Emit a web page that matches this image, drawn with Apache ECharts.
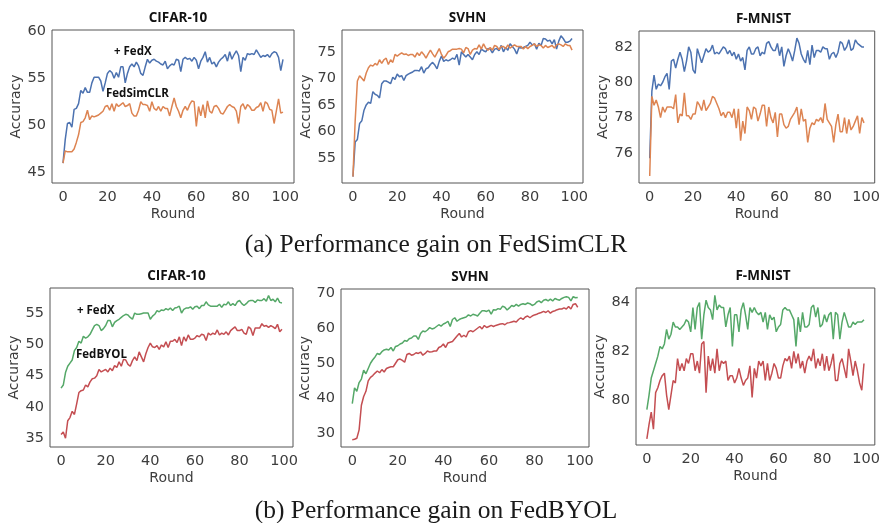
<!DOCTYPE html>
<html>
<head>
<meta charset="utf-8">
<script src="https://cdn.jsdelivr.net/npm/echarts@6/dist/echarts.min.js"></script>
<style>
  html, body { margin: 0; padding: 0; background: #fff; }
  #chart { width: 883px; height: 523px; }
</style>
</head>
<body>
<div id="chart"></div>
<script>
// rounds 0..99, accuracy per round
const simclrCifarFedx = [46.0,48.5,50.2,50.3,49.8,51.7,51.8,52.3,53.7,53.4,54.0,53.5,53.5,54.5,55.1,55.1,55.1,54.7,53.6,54.5,55.5,55.8,55.6,55.0,55.6,55.1,56.2,56.2,54.5,55.5,56.2,56.5,56.2,56.7,56.3,55.5,55.3,56.2,57.0,56.6,56.9,57.0,56.8,56.7,56.5,56.4,56.8,56.0,56.3,56.5,56.4,57.0,56.9,55.7,57.0,57.2,57.0,57.1,56.8,57.2,56.9,56.0,56.8,57.2,57.8,56.7,57.2,56.5,56.7,56.2,56.7,57.0,57.2,57.5,56.8,57.8,57.0,57.5,57.9,57.4,55.7,57.2,56.9,57.6,57.5,57.6,57.5,58.0,57.6,57.2,57.4,57.3,57.5,57.2,57.6,57.8,57.7,57.2,55.8,57.0];
const simclrCifarBase = [46.0,47.3,47.2,47.2,47.2,47.5,48.2,49.0,50.3,50.4,50.8,51.6,50.6,51.0,50.9,51.0,51.1,51.3,51.5,52.0,52.1,51.6,52.3,51.5,52.3,52.0,52.2,52.4,52.0,52.1,52.3,51.3,51.0,51.0,51.6,52.5,52.2,52.2,52.1,51.5,52.5,51.8,51.6,52.0,51.5,52.0,51.8,51.8,51.0,52.0,52.9,52.0,51.5,50.8,51.6,52.0,51.6,52.2,52.6,52.5,49.9,52.0,51.0,52.2,50.8,52.6,51.5,51.3,52.0,52.1,51.8,51.3,51.2,51.6,52.0,52.2,52.0,51.9,51.5,50.2,52.0,52.3,51.7,52.2,52.0,51.6,51.6,51.9,52.0,52.4,51.5,52.5,52.3,51.7,51.6,50.2,51.5,52.8,51.3,51.4];
const simclrSvhnFedx = [51.5,58.0,58.5,61.5,62.0,64.0,65.0,65.5,65.3,67.5,67.0,66.8,66.3,69.0,69.5,69.5,69.3,69.0,70.2,69.8,70.8,70.3,70.5,69.6,70.5,70.8,71.0,71.2,71.5,71.5,71.4,72.2,71.0,71.8,72.0,72.6,73.0,72.5,71.8,73.2,74.2,73.2,73.5,73.3,73.5,73.8,73.6,74.5,72.5,75.0,74.5,74.0,74.5,74.0,73.5,74.5,75.0,74.5,75.5,75.2,75.0,75.6,75.5,74.8,75.5,75.6,75.2,76.2,75.0,75.8,75.3,76.5,76.0,75.5,74.6,75.8,75.7,75.8,76.0,76.2,76.8,76.3,76.5,75.5,76.6,76.2,77.5,77.4,77.0,77.2,76.5,77.3,75.5,77.0,78.0,77.5,76.8,76.8,77.0,77.5];
const simclrSvhnBase = [51.5,62.0,69.5,70.5,70.0,69.5,71.0,72.0,72.5,72.3,72.8,72.5,73.5,72.8,73.5,73.8,72.6,73.5,73.0,74.5,74.2,74.5,74.8,74.5,74.6,74.3,74.5,74.5,74.0,74.8,74.3,75.0,74.5,73.8,74.6,75.3,74.6,74.0,74.8,75.6,74.5,73.8,74.3,75.0,75.2,75.5,75.5,75.5,75.6,75.5,74.8,75.8,75.6,74.5,75.3,75.6,75.5,76.3,75.5,76.5,75.7,75.3,75.8,75.3,76.2,76.0,75.4,76.0,76.0,75.6,76.3,75.7,76.0,76.3,76.0,76.0,76.0,75.5,76.0,75.6,76.0,76.2,76.5,76.0,76.3,76.2,75.7,76.2,75.8,76.0,76.2,75.7,76.3,76.5,76.3,76.0,76.5,76.2,76.2,75.3];
const simclrFmnistFedx = [75.7,79.5,80.4,79.6,79.9,79.8,80.0,80.3,80.5,79.6,81.2,81.3,80.8,81.3,81.7,81.3,80.6,81.2,82.0,81.7,80.7,80.5,81.9,81.5,81.1,81.5,81.9,81.7,81.8,82.1,81.6,81.7,81.6,81.8,82.0,81.9,81.6,81.8,81.5,81.7,81.3,81.6,81.2,81.4,80.7,81.8,82.0,81.6,81.6,81.9,82.0,81.5,81.7,81.6,82.2,82.3,82.0,81.8,81.8,82.2,81.5,82.0,80.9,81.5,81.9,81.6,81.2,81.8,82.5,82.2,81.6,81.3,81.1,81.8,81.0,82.1,81.4,81.8,81.8,81.7,82.0,81.9,81.9,81.3,81.6,81.7,81.4,81.7,82.3,82.2,81.8,82.0,82.4,81.8,81.9,82.4,82.2,82.1,82.0,82.0];
const simclrFmnistBase = [74.7,79.2,78.7,79.0,78.6,78.0,78.6,78.3,78.6,78.6,78.6,78.5,79.3,77.7,78.2,78.1,79.4,78.1,78.1,77.9,78.2,78.2,78.9,78.7,78.4,79.0,78.4,78.6,78.8,79.2,79.1,78.8,78.5,78.1,78.3,78.0,78.3,78.3,78.0,78.5,77.4,78.5,76.7,77.8,77.1,78.6,78.4,77.9,78.6,78.5,77.8,78.2,78.7,78.7,77.5,78.6,78.0,77.7,78.3,76.9,78.2,78.2,77.6,77.4,77.5,77.9,78.1,78.3,78.6,77.6,78.5,77.8,77.9,76.6,77.4,77.7,77.6,77.9,77.8,78.0,77.7,78.8,77.9,77.7,77.5,76.6,77.6,78.2,77.2,77.2,78.0,77.1,77.9,77.3,77.5,77.8,78.1,77.1,78.0,77.7];
const byolCifarFedx = [43.0,43.5,45.5,46.5,47.0,47.5,49.0,49.5,50.5,50.2,51.3,51.0,51.2,51.6,52.3,53.0,53.2,53.0,52.2,52.5,53.0,53.8,53.8,52.8,53.5,53.8,54.0,54.3,54.6,54.8,54.7,54.3,54.0,55.0,54.8,54.8,54.9,55.0,55.0,55.0,54.0,54.5,54.8,55.4,55.2,55.5,55.4,55.7,55.5,55.8,55.4,55.8,55.9,56.1,55.0,55.6,55.8,55.8,56.0,55.6,56.0,56.1,55.7,56.2,56.2,56.8,56.3,56.1,56.1,56.1,56.1,56.4,55.9,56.4,56.3,56.8,56.2,56.5,56.2,56.8,57.0,56.5,56.2,56.5,56.9,57.0,57.0,56.7,57.1,57.0,57.0,57.3,56.9,57.8,57.0,57.2,56.8,57.4,56.7,56.6];
const byolCifarBase = [35.6,36.0,35.0,37.8,38.3,39.3,38.8,40.5,42.3,42.6,42.7,43.5,43.2,44.0,44.5,44.6,45.0,46.0,45.6,45.8,46.0,45.6,46.2,45.8,46.6,46.3,47.2,46.5,47.6,47.5,46.8,46.5,47.4,48.0,47.4,48.8,48.0,47.2,48.5,49.5,50.2,49.6,49.5,49.8,49.2,49.9,49.6,50.4,49.5,50.5,50.5,50.8,50.3,51.2,49.8,51.2,50.5,51.5,50.8,50.8,51.0,51.4,51.2,51.6,51.5,50.6,51.8,51.5,51.8,51.6,52.3,51.5,51.8,51.6,52.0,51.5,52.2,52.5,52.8,52.2,52.2,52.4,51.8,51.6,52.8,52.5,51.4,52.6,52.6,52.6,53.3,52.9,53.0,52.7,53.0,52.8,52.5,53.2,52.0,52.4];
const byolSvhnFedx = [38.5,43.0,42.0,44.5,45.5,48.0,47.0,48.5,50.0,51.0,51.8,52.8,52.5,53.3,53.8,54.0,53.8,54.5,53.5,54.8,55.0,55.5,55.8,56.5,56.3,57.0,57.2,57.8,57.8,56.8,58.5,59.2,59.0,59.5,60.2,59.8,60.0,60.5,61.0,60.6,61.2,61.5,62.0,60.5,62.5,63.0,62.0,62.5,62.8,63.0,63.2,63.8,63.5,64.0,63.8,63.5,64.3,65.0,65.0,64.8,65.2,64.0,65.3,65.2,65.6,65.4,66.3,66.0,65.2,65.8,66.5,66.2,66.8,66.3,66.8,67.0,66.8,67.2,67.0,66.5,66.8,67.5,67.8,67.3,68.0,68.2,67.8,68.3,67.8,68.5,68.2,68.0,68.5,68.8,69.0,68.8,67.8,69.0,68.7,68.8];
const byolSvhnBase = [28.2,28.3,28.6,31.0,38.0,40.5,42.0,45.0,46.0,46.5,47.2,47.8,47.3,48.2,47.5,48.5,48.8,49.0,49.0,50.0,51.0,51.2,50.8,50.3,52.5,52.8,52.3,52.5,53.0,52.8,53.2,52.3,52.8,53.5,53.2,53.3,53.5,53.5,54.5,54.8,55.5,54.5,55.8,56.0,56.2,57.0,57.8,58.5,57.5,58.0,57.5,59.0,59.3,59.0,59.5,60.0,60.5,59.8,60.8,60.2,60.5,60.8,60.5,60.8,61.0,61.2,61.3,61.0,61.5,61.6,61.8,62.0,61.8,62.5,63.0,62.5,63.2,63.5,63.0,63.5,63.8,64.0,64.3,64.5,64.8,64.5,65.0,64.3,64.8,65.0,65.3,65.5,65.5,65.8,65.5,66.2,65.5,66.8,67.0,66.0];
const byolFmnistFedx = [79.6,80.2,80.9,81.2,81.5,81.8,82.2,82.1,82.3,82.9,82.5,82.7,83.2,83.0,83.0,82.9,83.0,83.1,83.3,83.2,82.8,83.8,82.9,83.8,84.0,82.5,83.5,84.1,83.8,83.7,83.3,84.3,83.7,83.9,83.8,83.8,83.0,83.5,83.8,82.2,83.5,83.5,82.8,83.7,84.0,83.5,82.9,83.8,83.6,83.8,83.6,83.5,83.6,83.2,83.6,82.9,83.5,83.3,83.4,82.8,83.0,83.1,83.7,83.8,83.7,83.7,83.5,83.3,82.2,83.4,82.8,83.6,83.0,83.0,83.1,83.8,83.9,83.4,83.8,83.0,83.1,83.5,83.2,83.5,83.6,82.5,83.6,83.5,82.5,83.2,83.6,83.3,83.0,83.0,83.2,83.1,83.2,83.2,83.2,83.3];
const byolFmnistBase = [78.4,79.0,79.5,78.8,80.3,80.5,80.8,81.0,81.1,80.2,79.6,80.2,80.8,80.7,81.7,81.2,81.5,81.2,81.7,81.5,81.9,81.9,81.2,81.6,81.1,82.3,82.4,80.3,81.8,81.2,81.7,81.1,82.1,81.2,81.6,81.5,81.6,80.8,81.0,81.0,80.7,80.9,81.3,80.9,80.6,80.8,80.9,81.4,80.1,81.3,80.9,81.6,81.4,81.6,80.8,81.5,80.8,81.1,81.5,81.3,80.9,80.9,81.4,81.7,81.6,81.8,81.3,82.0,81.5,81.9,81.3,81.6,81.1,81.6,81.8,81.6,82.1,81.3,81.7,81.4,81.9,81.2,81.8,81.2,81.5,81.9,80.8,80.8,81.5,81.7,81.3,80.9,82.1,81.6,81.0,81.6,81.2,80.7,80.4,81.5];

const roundTicks = [0, 20, 40, 60, 80, 100];
const panelTitles = ['CIFAR-10', 'SVHN', 'F-MNIST', 'CIFAR-10', 'SVHN', 'F-MNIST'];
const yTicks = [
  [45, 50, 55, 60],
  [55, 60, 65, 70, 75],
  [76, 78, 80, 82],
  [35, 40, 45, 50, 55],
  [30, 40, 50, 60, 70],
  [80, 82, 84]
];
const yRanges = [[43.9, 60.1], [50.3, 79.1], [74.3, 82.9], [33.6, 59.0], [26.1, 71.2], [78.15, 84.6]];
const captions = ['(a) Performance gain on FedSimCLR', '(b) Performance gain on FedBYOL'];

const BLUE = '#4c72b0', ORANGE = '#dd8452', GREEN = '#55a868', RED = '#c44e52';

const panels = [
  { grid: { left: 52, top: 30, width: 242, height: 153 }, lines: [[simclrCifarFedx, BLUE], [simclrCifarBase, ORANGE]] },
  { grid: { left: 342, top: 30, width: 241, height: 153 }, lines: [[simclrSvhnFedx, BLUE], [simclrSvhnBase, ORANGE]] },
  { grid: { left: 639, top: 31, width: 239, height: 152 }, lines: [[simclrFmnistFedx, BLUE], [simclrFmnistBase, ORANGE]] },
  { grid: { left: 50, top: 288, width: 243, height: 159 }, lines: [[byolCifarFedx, GREEN], [byolCifarBase, RED]] },
  { grid: { left: 341, top: 289, width: 248, height: 158 }, lines: [[byolSvhnFedx, GREEN], [byolSvhnBase, RED]] },
  { grid: { left: 636, top: 288, width: 244, height: 157 }, lines: [[byolFmnistFedx, GREEN], [byolFmnistBase, RED]] }
];

const tickFont = { color: '#3d3d3d', fontSize: 14.5, fontFamily: 'DejaVu Sans' };
const nameFont = { color: '#3d3d3d', fontSize: 14, fontFamily: 'DejaVu Sans' };
const noteFont = 'bold 11.5px "Open Sans"';

const option = {
  backgroundColor: '#fff',
  animation: false,
  title: panels.map((p, i) => ({
    text: panelTitles[i],
    left: p.grid.left + p.grid.width / 2,
    top: p.grid.top - 24,
    textAlign: 'center',
    textStyle: { fontFamily: 'Open Sans', fontWeight: 'bold', fontSize: 13.5, color: '#111' }
  })),
  grid: panels.map(p => ({
    ...p.grid,
    show: true,
    borderColor: '#555',
    borderWidth: 1,
    backgroundColor: 'transparent'
  })),
  xAxis: panels.map((p, i) => ({
    type: 'value',
    gridIndex: i,
    min: -4.95,
    max: 103.95,
    name: 'Round',
    nameLocation: 'middle',
    nameGap: 24,
    nameTextStyle: nameFont,
    axisLine: { show: false },
    axisTick: { show: false, customValues: roundTicks },
    splitLine: { show: false },
    axisLabel: { ...tickFont, margin: 7, customValues: roundTicks }
  })),
  yAxis: panels.map((p, i) => ({
    type: 'value',
    gridIndex: i,
    min: yRanges[i][0],
    max: yRanges[i][1],
    name: 'Accuracy',
    nameLocation: 'middle',
    nameGap: 27,
    nameTextStyle: nameFont,
    axisLine: { show: false },
    axisTick: { show: false, customValues: yTicks[i] },
    splitLine: { show: false },
    axisLabel: { ...tickFont, margin: 6, customValues: yTicks[i] }
  })),
  series: panels.flatMap((p, i) => p.lines.map(([vals, color]) => ({
    type: 'line',
    xAxisIndex: i,
    yAxisIndex: i,
    data: vals.map((v, r) => [r, v]),
    showSymbol: false,
    lineStyle: { color, width: 1.5 },
    itemStyle: { color }
  }))),
  graphic: [
    { type: 'text', left: 114, top: 46, style: { text: '+ FedX', font: noteFont, fill: '#111' } },
    { type: 'text', left: 106, top: 88, style: { text: 'FedSimCLR', font: noteFont, fill: '#111' } },
    { type: 'text', left: 77, top: 305, style: { text: '+ FedX', font: noteFont, fill: '#111' } },
    { type: 'text', left: 76, top: 349, style: { text: 'FedBYOL', font: noteFont, fill: '#111' } },
    { type: 'text', x: 436, y: 245, style: { text: captions[0], font: '25.5px "Liberation Serif"', fill: '#1a1a1a', align: 'center', verticalAlign: 'middle' } },
    { type: 'text', x: 436, y: 511, style: { text: captions[1], font: '25.5px "Liberation Serif"', fill: '#1a1a1a', align: 'center', verticalAlign: 'middle' } }
  ]
};

const chart = echarts.init(document.getElementById('chart'), null, { renderer: 'canvas' });
chart.setOption(option);
</script>
</body>
</html>
